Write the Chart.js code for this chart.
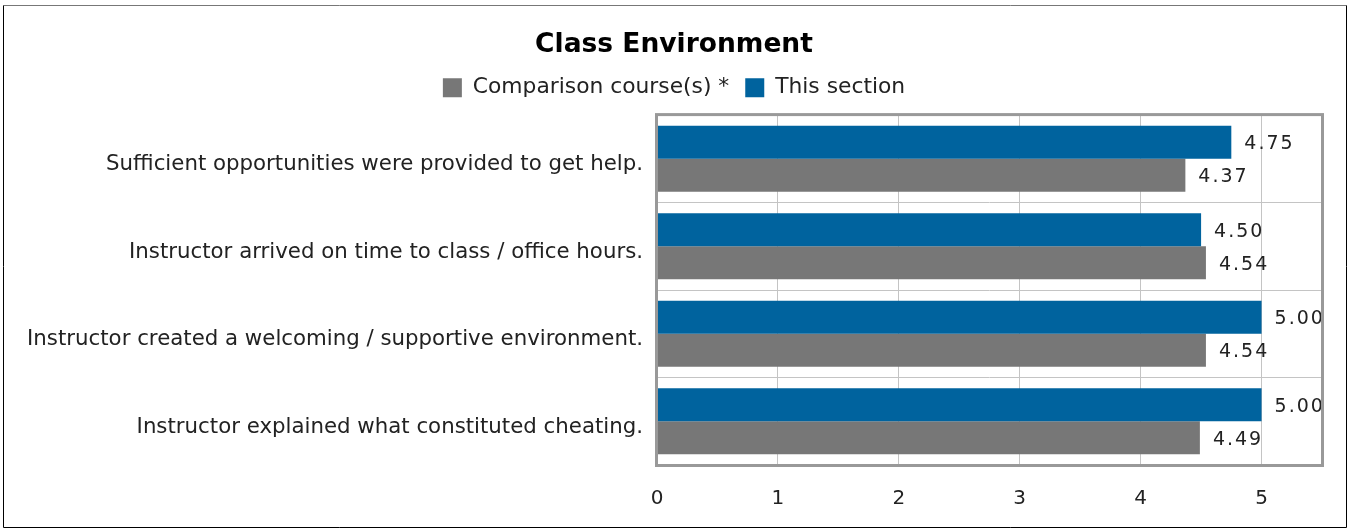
<!DOCTYPE html>
<html>
<head>
<meta charset="utf-8">
<script src="https://cdn.jsdelivr.net/npm/chart.js@4"></script>
<style>
    html, body { margin: 0; padding: 0; background: #fff; }
    #wrap { width: 1348px; height: 529px; position: relative; }
</style>
</head>
<body>
<div id="wrap"><canvas id="myChart"></canvas></div>
<script>
// Chart data
const categories = [
    "Sufficient opportunities were provided to get help.",
    "Instructor arrived on time to class / office hours.",
    "Instructor created a welcoming / supportive environment.",
    "Instructor explained what constituted cheating.",
];
const sectionValues = [4.75, 4.5, 5.0, 5.0];
const comparisonValues = [4.37, 4.54, 4.54, 4.49];
const tickValues = [0, 1, 2, 3, 4, 5];

const BLUE = "#00639e";
const GRAY = "#777777";

// Value labels at the end of each bar + frames
const extras = {
    id: "extras",
    afterDatasetsDraw(chart) {
        const ctx = chart.ctx;
        ctx.save();
        ctx.font = "19px 'DejaVu Sans'";
        ctx.fillStyle = "#222";
        ctx.textAlign = "left";
        ctx.textBaseline = "middle";
        ctx.letterSpacing = "2px";
        chart.data.datasets.forEach((ds, i) => {
            chart.getDatasetMeta(i).data.forEach((bar, j) => {
                ctx.fillText(ds.data[j].toFixed(2), bar.x + 13, bar.y + 2);
            });
        });
        ctx.restore();
    },
    afterDraw(chart) {
        const ctx = chart.ctx;
        const a = chart.chartArea;
        ctx.save();
        // plot frame
        ctx.strokeStyle = "#999";
        ctx.lineWidth = 3;
        ctx.strokeRect(a.left - 0.5, a.top - 0.5, a.right - a.left + 1, a.bottom - a.top + 1);
        // outer frame
        ctx.lineWidth = 1;
        ctx.strokeStyle = "#777";
        ctx.beginPath();
        ctx.moveTo(3.5, 5.5);
        ctx.lineTo(1346.5, 5.5);
        ctx.stroke();
        ctx.strokeStyle = "#000";
        ctx.beginPath();
        ctx.moveTo(3.5, 5.5);
        ctx.lineTo(3.5, 527.5);
        ctx.lineTo(1346.5, 527.5);
        ctx.lineTo(1346.5, 5.5);
        ctx.stroke();
        ctx.restore();
    },
};

Chart.defaults.font.family = "'DejaVu Sans'";
Chart.defaults.color = "#222";

new Chart(document.getElementById("myChart"), {
    type: "bar",
    data: {
        labels: categories,
        datasets: [
            {
                label: "This section",
                data: sectionValues,
                backgroundColor: BLUE,
                borderWidth: 0,
                categoryPercentage: 0.755,
                barPercentage: 1,
            },
            {
                label: "Comparison course(s) *",
                data: comparisonValues,
                backgroundColor: GRAY,
                borderWidth: 0,
                categoryPercentage: 0.755,
                barPercentage: 1,
            },
        ],
    },
    options: {
        indexAxis: "y",
        responsive: true,
        maintainAspectRatio: false,
        animation: false,
        layout: { padding: 0 },
        plugins: {
            title: {
                display: true,
                text: "Class Environment",
                color: "#000",
                font: { size: 26.5, weight: "bold" },
                padding: { top: 29, bottom: 0 },
            },
            legend: {
                reverse: true,
                labels: {
                    color: "#222",
                    font: { size: 21.8 },
                    boxWidth: 19,
                    boxHeight: 19,
                    padding: 16,
                },
            },
            tooltip: { enabled: false },
        },
        scales: {
            x: {
                min: 0,
                max: 5.5,
                afterBuildTicks(scale) {
                    scale.ticks = tickValues.map((v) => ({ value: v }));
                },
                afterFit(scale) {
                    scale.height = 64;
                },
                grid: { color: "#c4c4c4", drawTicks: false },
                border: { display: false },
                ticks: { font: { size: 20 }, color: "#222", padding: 22 },
            },
            // spacer between legend and plot
            xTop: {
                position: "top",
                display: true,
                afterFit(scale) {
                    scale.height = 6.5;
                },
                grid: { display: false },
                border: { display: false },
                ticks: { display: false },
            },
            y: {
                afterFit(scale) {
                    scale.width = 657;
                },
                grid: { color: "#c4c4c4", drawTicks: false, offset: true },
                border: { display: false },
                ticks: { font: { size: 21.3 }, color: "#222", padding: 14, labelOffset: 6 },
            },
            // spacer right of the plot
            yRight: {
                position: "right",
                display: true,
                afterFit(scale) {
                    scale.width = 26;
                },
                grid: { display: false },
                border: { display: false },
                ticks: { display: false },
            },
        },
    },
    plugins: [extras],
});
</script>
</body>
</html>
